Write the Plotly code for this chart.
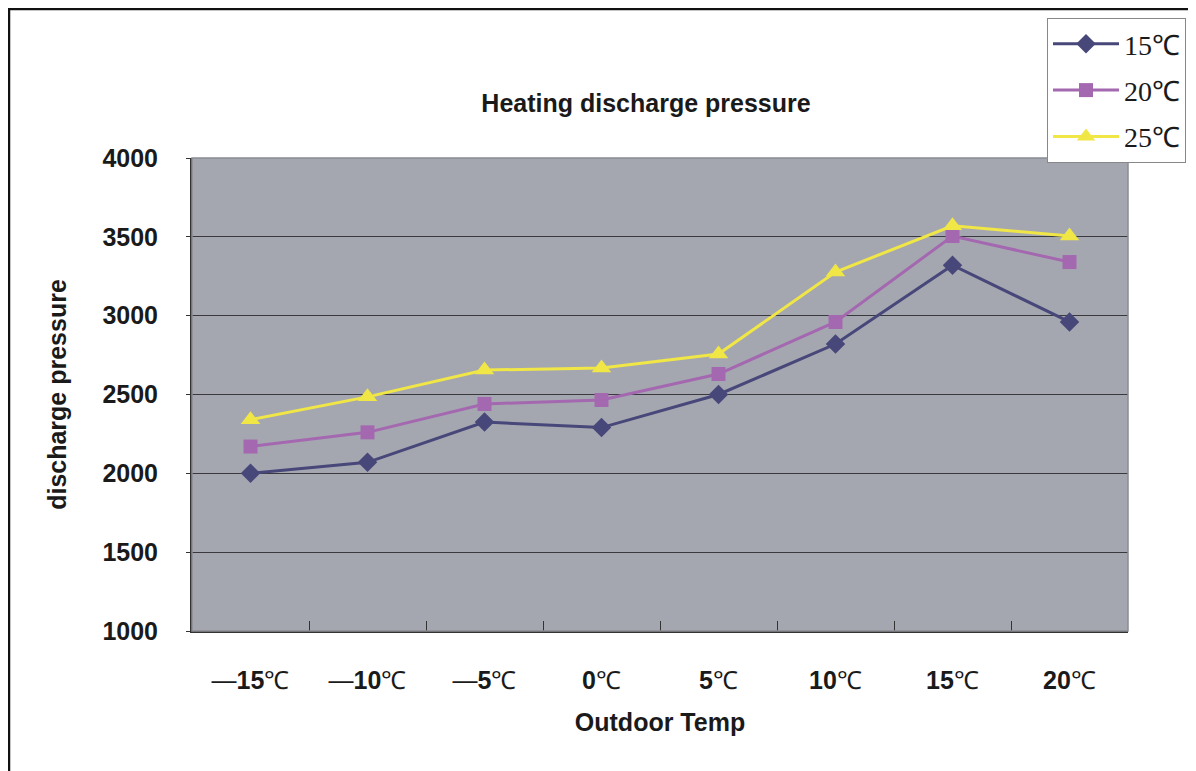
import plotly.graph_objects as go

categories = ["—15℃", "—10℃", "—5℃", "0℃", "5℃", "10℃", "15℃", "20℃"]
tick_text = ["—<b>15</b>℃", "—<b>10</b>℃", "—<b>5</b>℃", "<b>0</b>℃", "<b>5</b>℃",
             "<b>10</b>℃", "<b>15</b>℃", "<b>20</b>℃"]
s15 = [2000, 2070, 2325, 2290, 2500, 2820, 3320, 2960]
s20 = [2170, 2260, 2440, 2465, 2630, 2960, 3505, 3340]
s25 = [2340, 2485, 2655, 2668, 2757, 3277, 3570, 3505]
series_names = ["15℃", "20℃", "25℃"]
y_ticks = [1000, 1500, 2000, 2500, 3000, 3500, 4000]

# page is offset by 8px (body margin); compensate
OFF = 8
W, H = 1196 - OFF, 771 - OFF
L, T = 192 - OFF, 158 - OFF
R = W - (1128 - OFF)
B = H - (631 - OFF)
PW, PH = W - L - R, H - T - B

FONT = "Liberation Sans Narrow, Arial Narrow, Liberation Sans, Arial, sans-serif"

fig = go.Figure()
styles = [
    ("#48477A", "diamond", 15),
    ("#A468B0", "square", 14),
    ("#F0E646", "triangle-up", 17),
]
for i, (name, vals) in enumerate(zip(series_names, [s15, s20, s25])):
    col, sym, sz = styles[i]
    fig.add_trace(go.Scatter(
        x=categories, y=vals, name=name, mode="lines+markers",
        line=dict(color=col, width=3),
        marker=dict(symbol=sym, size=sz, color=col),
        legendgroup=name,
    ))

def px_x(p):
    return (p - OFF - L) / PW

def px_y(p):
    return (H + OFF - B - p) / PH

shapes = [
    dict(type="line", xref="paper", yref="paper", x0=px_x(7), x1=px_x(1200), y0=px_y(9), y1=px_y(9),
         line=dict(color="#111111", width=2.5)),
    dict(type="line", xref="paper", yref="paper", x0=px_x(9), x1=px_x(9), y0=px_y(9), y1=px_y(775),
         line=dict(color="#111111", width=2.5)),
    dict(type="rect", xref="paper", yref="paper", x0=0, x1=1, y0=0, y1=1,
         line=dict(color="#8A8C92", width=1.5), layer="above"),
]
fig.update_layout(shapes=shapes)

fig.update_layout(
    width=W, height=H,
    margin=dict(l=L, r=R, t=T, b=B, autoexpand=False),
    paper_bgcolor="white",
    plot_bgcolor="#A5A7B0",
    title=dict(text="<b>Heating discharge pressure</b>", x=px_x(646), xanchor="center",
               xref="paper", y=1 - (103 - OFF) / H, yanchor="middle",
               font=dict(family=FONT, size=25, color="#1a1a1a")),
    showlegend=True,
    legend=dict(x=px_x(1047), y=px_y(18), xanchor="left", yanchor="top",
                bgcolor="white", bordercolor="#888888", borderwidth=1,
                font=dict(family="Liberation Serif, Times New Roman, serif", size=28, color="#1a1a1a"),
                tracegroupgap=7, itemwidth=66),
    xaxis=dict(
        type="category", range=[-0.5, 7.5],
        tickson="boundaries", ticks="inside", ticklen=10, tickcolor="#333333", tickwidth=1,
        showgrid=False, showline=True, linecolor="#333333", linewidth=2,
        tickfont=dict(family=FONT, size=25, color="#1a1a1a"),
        ticklabelstandoff=26,
        tickvals=categories, ticktext=tick_text,
        title=dict(text="<b>Outdoor Temp</b>", font=dict(family=FONT, size=25, color="#1a1a1a"), standoff=20),
        fixedrange=True,
    ),
    yaxis=dict(
        range=[1000, 4000], tickvals=y_ticks, ticktext=[f"<b>{v}</b>" for v in y_ticks],
        showgrid=True, gridcolor="#3A3A3E", gridwidth=1,
        showline=True, linecolor="#333333", linewidth=2,
        ticks="outside", ticklen=4, tickcolor="#333333",
        tickfont=dict(family=FONT, size=25, color="#1a1a1a"),
        ticklabelstandoff=23,
        title=dict(text="<b>discharge pressure</b>", font=dict(family=FONT, size=25, color="#1a1a1a"), standoff=29),
        zeroline=False, fixedrange=True,
    ),
)

fig.write_html("out.html")
